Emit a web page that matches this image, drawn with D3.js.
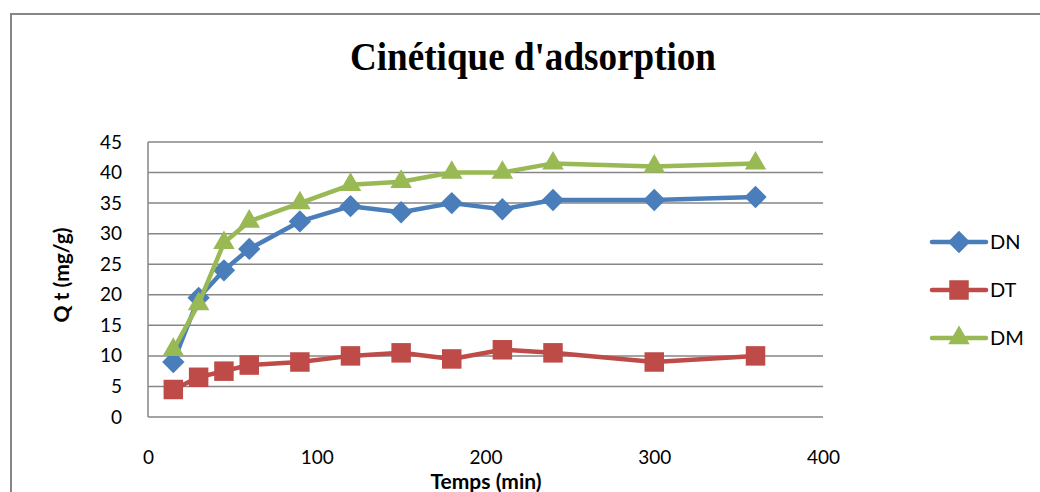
<!DOCTYPE html>
<html>
<head>
<meta charset="utf-8">
<script src="https://cdn.jsdelivr.net/npm/d3@7"></script>
<style>
  html, body { margin: 0; padding: 0; background: #fff; }
  svg { display: block; }
</style>
</head>
<body>
<svg id="chart" width="1040" height="492"></svg>
<script>
// Adsorption kinetics: time (min) vs Qt (mg/g) for three materials
const times = [15, 30, 45, 60, 90, 120, 150, 180, 210, 240, 300, 360];
const seriesNames = ["DN", "DT", "DM"];
const dnValues = [9, 19.5, 24, 27.5, 32, 34.5, 33.5, 35, 34, 35.5, 35.5, 36];
const dtValues = [4.5, 6.5, 7.5, 8.5, 9, 10, 10.5, 9.5, 11, 10.5, 9, 10];
const dmValues = [11, 18.5, 28.5, 32, 35, 38, 38.5, 40, 40, 41.5, 41, 41.5];
const xTicks = [0, 100, 200, 300, 400];
const yTicks = [0, 5, 10, 15, 20, 25, 30, 35, 40, 45];

// Diamond = square turned by 45 degrees
const series = [
  { name: seriesNames[0], values: dnValues, color: "#4A7EBB", symbol: d3.symbolSquare, size: 250, rot: 45 },
  { name: seriesNames[1], values: dtValues, color: "#BE4B48", symbol: d3.symbolSquare, size: 380, rot: 0 },
  { name: seriesNames[2], values: dmValues, color: "#98B954", symbol: d3.symbolTriangle, size: 200, rot: 0 }
];

const svg = d3.select("#chart");
const font = "Lato, 'Open Sans', sans-serif";

// Outer chart frame
svg.append("rect")
  .attr("x", 11).attr("y", 14)
  .attr("width", 1040).attr("height", 500)
  .attr("fill", "none").attr("stroke", "#868686").attr("stroke-width", 2);

const x = d3.scaleLinear().domain([0, 400]).range([148, 823]);
const y = d3.scaleLinear().domain([0, 45]).range([417, 142]);

// Title
svg.append("text")
  .attr("x", 350).attr("y", 70)
  .attr("font-family", "'Liberation Serif', 'Times New Roman', serif")
  .attr("font-weight", "bold")
  .attr("font-size", 41)
  .attr("textLength", 366)
  .attr("lengthAdjust", "spacingAndGlyphs")
  .text("Cinétique d'adsorption");

// Horizontal gridlines
svg.append("g")
  .selectAll("line")
  .data(yTicks)
  .join("line")
  .attr("x1", x(0)).attr("x2", x(400))
  .attr("y1", d => y(d)).attr("y2", d => y(d))
  .attr("stroke", "#868686").attr("stroke-width", 1.5);

// Vertical axis line
svg.append("line")
  .attr("x1", x(0)).attr("x2", x(0))
  .attr("y1", y(45)).attr("y2", y(0))
  .attr("stroke", "#868686").attr("stroke-width", 1.5);

// Y axis tick labels
const yAxis = d3.axisLeft(y).tickValues(yTicks).tickSize(0).tickPadding(26);
const gy = svg.append("g").attr("transform", `translate(${x(0)},0)`).call(yAxis);
gy.select(".domain").remove();
gy.selectAll("text")
  .attr("font-family", font).attr("font-size", 19).attr("fill", "#000");

// X axis tick labels (set well below the axis line)
const xAxis = d3.axisBottom(x).tickValues(xTicks).tickSize(0).tickPadding(0);
const gx = svg.append("g").attr("transform", `translate(0,${y(0) + 33})`).call(xAxis);
gx.select(".domain").remove();
gx.selectAll("text")
  .attr("font-family", font).attr("font-size", 19).attr("fill", "#000");

// Axis titles
svg.append("text")
  .attr("x", 486).attr("y", 489)
  .attr("text-anchor", "middle")
  .attr("font-family", font).attr("font-weight", "bold").attr("font-size", 21)
  .text("Temps (min)");

svg.append("text")
  .attr("transform", "translate(69,275) rotate(-90)")
  .attr("text-anchor", "middle")
  .attr("font-family", font).attr("font-weight", "bold").attr("font-size", 21)
  .text("Q t (mg/g)");

// Series lines and markers
const line = d3.line().x((d, i) => x(times[i])).y(d => y(d));

series.forEach(s => {
  const g = svg.append("g");
  g.append("path")
    .datum(s.values)
    .attr("d", line)
    .attr("fill", "none")
    .attr("stroke", s.color)
    .attr("stroke-width", 4.5)
    .attr("stroke-linejoin", "round");
  g.selectAll("path.m")
    .data(s.values)
    .join("path")
    .attr("class", "m")
    .attr("transform", (d, i) => `translate(${x(times[i])},${y(d)}) rotate(${s.rot})`)
    .attr("d", d3.symbol().type(s.symbol).size(s.size))
    .attr("fill", s.color);
});

// Legend
const legendY = [242, 290, 338];
series.forEach((s, i) => {
  const g = svg.append("g").attr("transform", `translate(0,${legendY[i]})`);
  g.append("line")
    .attr("x1", 932).attr("x2", 986)
    .attr("stroke", s.color).attr("stroke-width", 4.5).attr("stroke-linecap", "round");
  g.append("path")
    .attr("transform", `translate(959,0) rotate(${s.rot})`)
    .attr("d", d3.symbol().type(s.symbol).size(s.size))
    .attr("fill", s.color);
  g.append("text")
    .attr("x", 990).attr("y", 0).attr("dy", "0.35em")
    .attr("font-family", font).attr("font-size", 20)
    .text(s.name);
});
</script>
</body>
</html>
